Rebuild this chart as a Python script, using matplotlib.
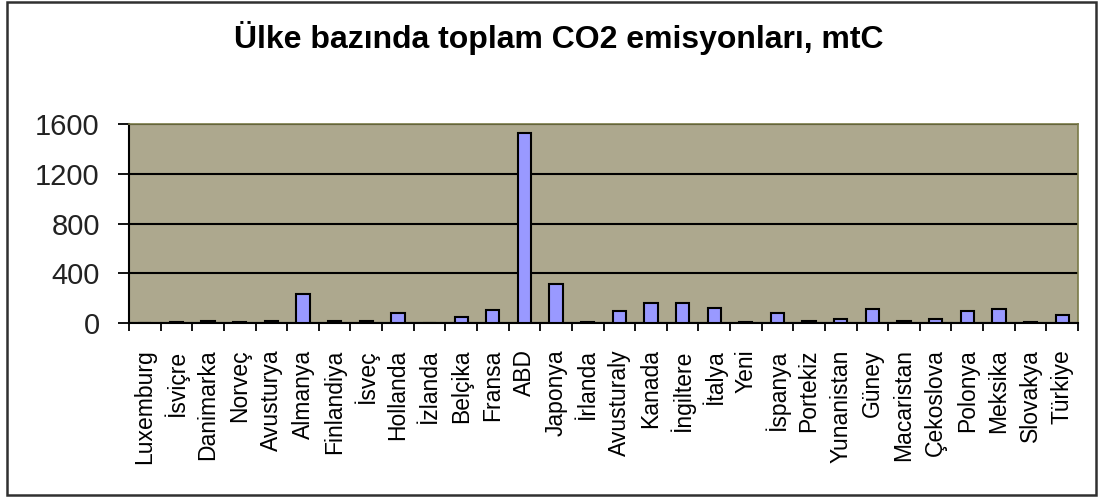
import matplotlib.pyplot as plt
import numpy as np
from matplotlib import patches

# ulkeler ve emisyon degerleri (mtC)
ulkeler = ["Luxemburg", "İsviçre", "Danimarka", "Norveç", "Avusturya", "Almanya",
           "Finlandiya", "İsveç", "Hollanda", "İzlanda", "Belçika", "Fransa", "ABD",
           "Japonya", "İrlanda", "Avusturaly", "Kanada", "İngiltere", "İtalya", "Yeni",
           "İspanya", "Portekiz", "Yunanistan", "Güney", "Macaristan", "Çekoslova",
           "Polonya", "Meksika", "Slovakya", "Türkiye"]
emisyon = [3, 12, 15, 12, 15, 235, 15, 15, 80, 1, 45, 107, 1525,
           316, 12, 94, 158, 158, 123, 10, 78, 15, 32, 110, 15, 32,
           94, 110, 10, 62]
y_ticks = [0, 400, 800, 1200, 1600]

plt.rcParams['font.family'] = ['Liberation Sans', 'DejaVu Sans']

fig = plt.figure(figsize=(11, 4.97), dpi=100)
ax = fig.add_axes([129/1100, 1-323/497, (1078-129)/1100, (323-124)/497])

x = np.arange(len(ulkeler))
ax.bar(x, emisyon, width=0.42, color='#9999FF', edgecolor='black', linewidth=1.5, zorder=3)

ax.set_facecolor('#ADA88E')
ax.set_xlim(-0.5, len(ulkeler) - 0.5)
ax.set_ylim(0, 1600)
ax.set_yticks(y_ticks)
ax.yaxis.grid(True, color='black', linewidth=1.5, zorder=1)
ax.set_axisbelow(True)

ax.set_xticks(x)
ax.set_xticklabels(ulkeler, rotation=90, fontsize=16.5)
ax.set_xticks(np.arange(-0.5, len(ulkeler)), minor=True)
ax.tick_params(axis='x', which='major', length=0, pad=19)
ax.tick_params(axis='x', which='minor', length=6, width=1.3, color='black', direction='out')
ax.tick_params(axis='y', length=8, width=1.3, pad=13, labelsize=21, labelcolor='#222222')

for s in ['left', 'bottom']:
    ax.spines[s].set_color('black')
    ax.spines[s].set_linewidth(1.5)
for s in ['top', 'right']:
    ax.spines[s].set_color('#7A7A48')
    ax.spines[s].set_linewidth(1.2)

fig.text(559/1100, 1-48/497, "Ülke bazında toplam CO2 emisyonları, mtC",
         ha='center', va='baseline', fontsize=23, fontweight='bold')

# dis cerceve
fig.add_artist(patches.Rectangle((7/1100, 2/497), (1096-7)/1100, (495-2)/497,
                                 transform=fig.transFigure, fill=False,
                                 edgecolor='#303030', linewidth=1.8))

fig.savefig('out.png', dpi=100)
